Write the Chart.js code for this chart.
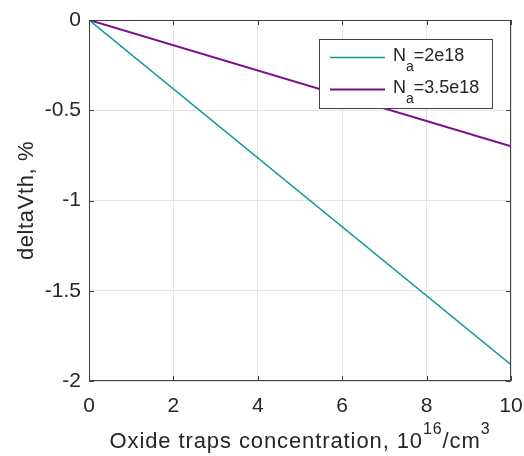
<!DOCTYPE html>
<html>
<head>
<meta charset="utf-8">
<script src="https://cdn.jsdelivr.net/npm/chart.js@4/dist/chart.umd.min.js"></script>
<style>
  body { margin: 0; background: #fff; }
</style>
</head>
<body>
<canvas id="myChart" width="524" height="456"></canvas>
<script>
'use strict';

//********************* Data *************************/
let trapConc = [0, 10];
let deltaNa2e18 = [0, -1.91];
let deltaNa35e18 = [0, -0.70];
let xTicks = [0, 2, 4, 6, 8, 10];
let yTicks = [0, -0.5, -1, -1.5, -2];
let seriesNames = ['2e18', '3.5e18'];
let seriesColors = ['#15979a', '#7f0a8c'];

const FONT = '"Liberation Sans", Arial, Helvetica, sans-serif';
const AXIS_COLOR = '#404040';
const TEXT_COLOR = '#262626';

function toPoints(xs, ys){
  let pts = [];
  for(let i = 0; i < xs.length; i++){
    pts.push({x: xs[i], y: ys[i]});
  }
  return pts;
}

// text with sub/superscript pieces, returns width
function drawRich(ctx, parts, x, y, size, subSize, measureOnly){
  let w = 0;
  for(let p of parts){
    let s = p.s ? subSize : size;
    ctx.font = s + 'px ' + FONT;
    let dy = p.s === 'sup' ? -size * 0.64 : (p.s === 'sub' ? size * 0.55 : 0);
    if(!measureOnly){
      ctx.fillText(p.t, x + w, y + dy);
    }
    w += ctx.measureText(p.t).width;
  }
  return w;
}

//********************** Box, inside ticks, legend, titles *********************/
const matlabLook = {
  id: 'matlabLook',
  afterDatasetsDraw(chart){
    const ctx = chart.ctx;
    const a = chart.chartArea;
    const xs = chart.scales.x;
    const ys = chart.scales.y;
    ctx.save();
    ctx.strokeStyle = AXIS_COLOR;
    ctx.lineWidth = 1;
    ctx.beginPath();
    ctx.rect(a.left + 0.5, a.top + 0.5, a.right - a.left - 1, a.bottom - a.top - 1);
    ctx.stroke();
    let tl = 5;
    ctx.beginPath();
    for(let v of xTicks){
      let px = Math.round(xs.getPixelForValue(v)) + 0.5;
      ctx.moveTo(px, a.bottom); ctx.lineTo(px, a.bottom - tl);
      ctx.moveTo(px, a.top); ctx.lineTo(px, a.top + tl);
    }
    for(let v of yTicks){
      let py = Math.round(ys.getPixelForValue(v)) + 0.5;
      ctx.moveTo(a.left, py); ctx.lineTo(a.left + tl, py);
      ctx.moveTo(a.right, py); ctx.lineTo(a.right - tl, py);
    }
    ctx.stroke();

    // legend
    let lx = 319, ly = 39, lw = 173, lh = 69;
    ctx.fillStyle = '#fff';
    ctx.fillRect(lx, ly, lw, lh);
    ctx.strokeRect(lx + 0.5, ly + 0.5, lw, lh);
    let rows = [57.5, 89.5];
    for(let i = 0; i < seriesNames.length; i++){
      ctx.strokeStyle = seriesColors[i];
      ctx.lineWidth = i === 0 ? 1.5 : 2;
      ctx.beginPath();
      ctx.moveTo(330, rows[i]); ctx.lineTo(385, rows[i]);
      ctx.stroke();
      ctx.fillStyle = TEXT_COLOR;
      ctx.textBaseline = 'alphabetic';
      ctx.textAlign = 'left';
      drawRich(ctx, [{t: 'N'}, {t: 'a', s: 'sub'}, {t: '=' + seriesNames[i]}], 393, rows[i] + 3.5, 18, 14);
    }

    // x title
    ctx.fillStyle = TEXT_COLOR;
    ctx.letterSpacing = '0.9px';
    let xParts = [{t: 'Oxide traps concentration, 10'}, {t: '16', s: 'sup'}, {t: '/cm'}, {t: '3', s: 'sup'}];
    let tw = drawRich(ctx, xParts, 0, 0, 22, 16, true);
    let cx = (a.left + a.right) / 2;
    drawRich(ctx, xParts, cx - tw / 2, 448, 22, 16);

    // y title
    ctx.letterSpacing = '0.6px';
    ctx.translate(33, (a.top + a.bottom) / 2);
    ctx.rotate(-Math.PI / 2);
    ctx.textAlign = 'center';
    ctx.font = '22px ' + FONT;
    ctx.fillText('deltaVth, %', 0, 0);
    ctx.restore();
  }
};

//********************** Chart *********************/
const ctx = document.getElementById('myChart').getContext('2d');

const myChart = new Chart(ctx, {
  type: 'line',
  data: {
    datasets: [{
      label: 'Na=' + seriesNames[0],
      data: toPoints(trapConc, deltaNa2e18),
      borderColor: seriesColors[0],
      borderWidth: 1.5,
      pointRadius: 0,
      tension: 0
    },
    {
      label: 'Na=' + seriesNames[1],
      data: toPoints(trapConc, deltaNa35e18),
      borderColor: seriesColors[1],
      borderWidth: 2,
      pointRadius: 0,
      tension: 0
    }]
  },
  options: {
    responsive: false,
    animation: false,
    layout: { padding: { top: 20, right: 13, left: 0, bottom: 0 } },
    plugins: {
      legend: { display: false },
      tooltip: { enabled: false }
    },
    scales: {
      x: {
        type: 'linear',
        min: 0,
        max: 10,
        afterFit(scale){
          scale.height = 75;
          scale.paddingLeft = 0;
          scale.paddingRight = 0;
        },
        afterBuildTicks(scale){ scale.ticks = xTicks.map(v => ({value: v})); },
        grid: { color: '#e3e3e3', drawTicks: false },
        border: { display: false },
        ticks: {
          padding: 13,
          color: TEXT_COLOR,
          font: { family: FONT, size: 21 },
          maxRotation: 0,
          callback: v => String(v)
        }
      },
      y: {
        type: 'linear',
        min: -2,
        max: 0,
        afterFit(scale){
          scale.width = 89;
          scale.paddingTop = 0;
          scale.paddingBottom = 0;
        },
        afterBuildTicks(scale){ scale.ticks = yTicks.map(v => ({value: v})); },
        grid: { color: '#e3e3e3', drawTicks: false },
        border: { display: false },
        ticks: {
          padding: 8,
          color: TEXT_COLOR,
          font: { family: FONT, size: 21 },
          callback: v => String(v)
        }
      }
    }
  },
  plugins: [matlabLook]
});
</script>
</body>
</html>
